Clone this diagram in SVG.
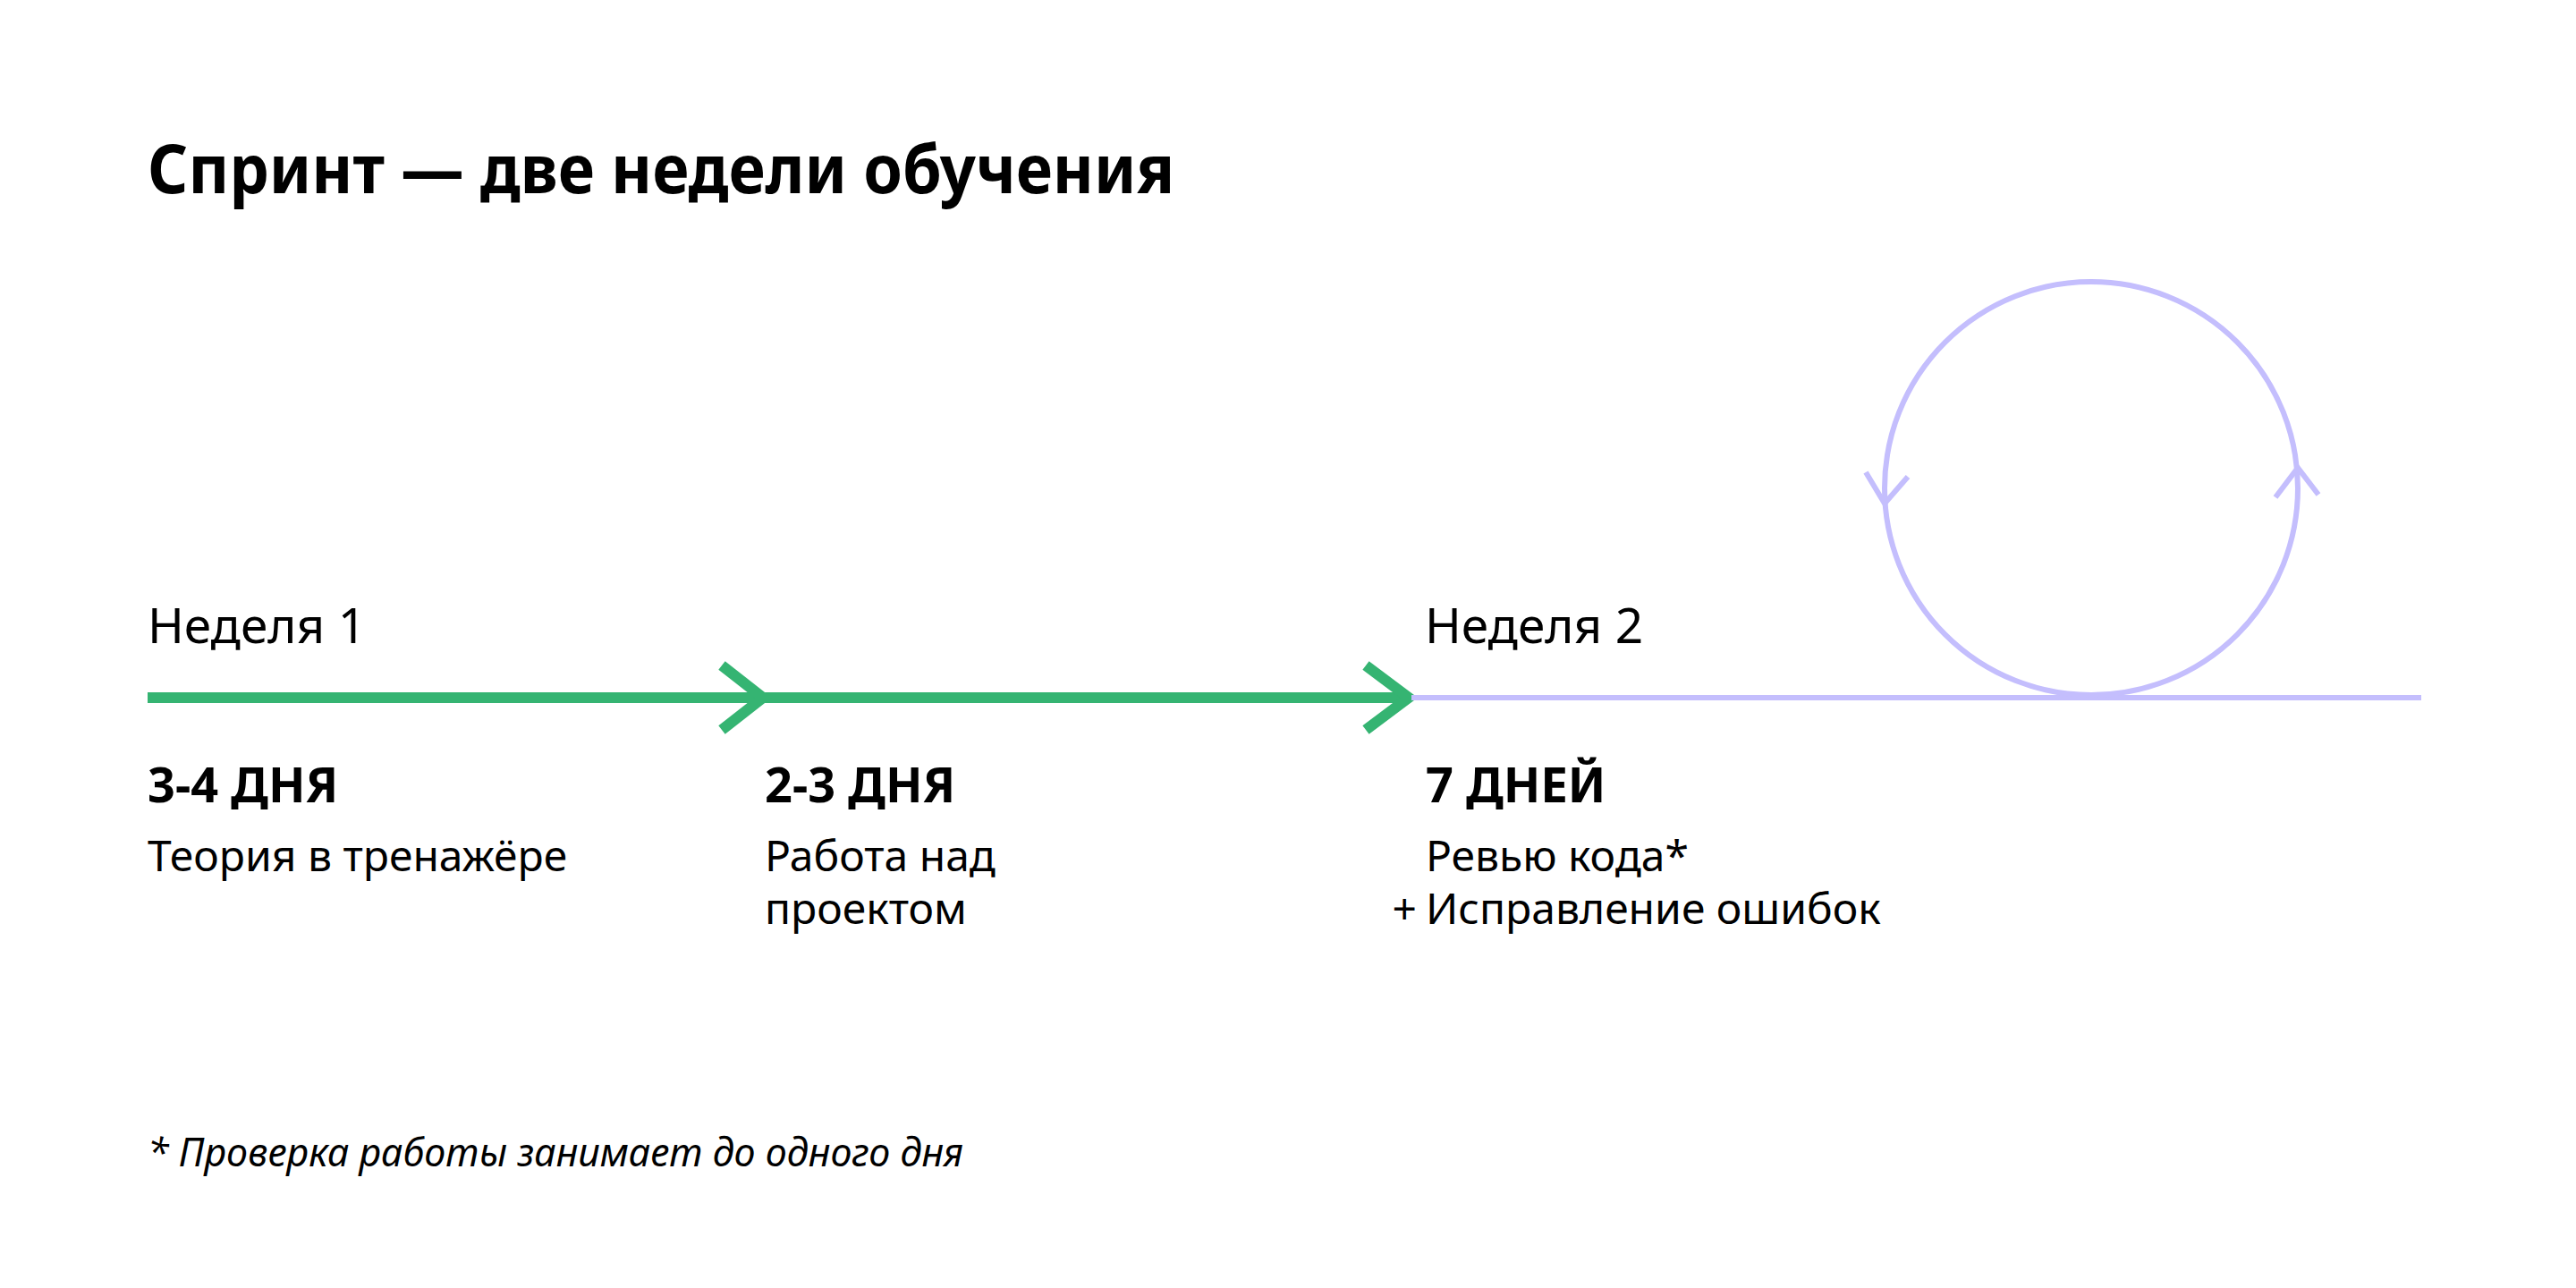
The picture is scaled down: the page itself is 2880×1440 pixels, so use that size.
<svg xmlns="http://www.w3.org/2000/svg" width="2880" height="1440" viewBox="0 0 2880 1440">
<style>
text{font-family:"Noto Sans","Liberation Sans",sans-serif;fill:#000}
.title{font-size:75px;font-weight:700}
.week{font-size:55px}
.days{font-size:54px;font-weight:700}
.desc{font-size:48px}
.note{font-size:43px;font-style:italic}
.green{stroke:#35b472;fill:none;stroke-width:12}
.purple{stroke:#c4befd;fill:none;stroke-width:6}
</style>
<rect width="2880" height="1440" fill="#fff"/>
<g id="title"><text class="title" x="165" y="216" textLength="1148" lengthAdjust="spacingAndGlyphs">Спринт — две недели обучения</text></g>
<g id="connectors">
<line class="green" x1="165" y1="780" x2="1572" y2="780"/>
<polyline class="green" points="807,744 853,780 807,816"/>
<polyline class="green" points="1527,744 1575,780 1527,816"/>
<line class="purple" x1="1578" y1="780" x2="2707" y2="780"/>
<circle class="purple" cx="2338" cy="546" r="231"/>
<polyline class="purple" stroke-width="5" points="2086,528 2107,563 2133,533"/>
<polyline class="purple" stroke-width="5" points="2544,556 2569,523 2592,553"/>
</g>
<g id="week1"><text class="week" x="165" y="719">Неделя 1</text></g>
<g id="week2"><text class="week" x="1593" y="719">Неделя 2</text></g>
<g id="stage1">
<text class="days" x="165" y="897">3-4 ДНЯ</text>
<text class="desc" x="165" y="974">Теория в тренажёре</text>
</g>
<g id="stage2">
<text class="days" x="855" y="897">2-3 ДНЯ</text>
<text class="desc" x="855" y="974">Работа над</text>
<text class="desc" x="855" y="1033">проектом</text>
</g>
<g id="stage3">
<text class="days" x="1594" y="897">7 ДНЕЙ</text>
<text class="desc" x="1594" y="974">Ревью кода*</text>
<text class="desc" x="1584" y="1033" text-anchor="end">+</text>
<text class="desc" x="1594" y="1033">Исправление ошибок</text>
</g>
<g id="footnote"><text class="note" x="165" y="1304">* Проверка работы занимает до одного дня</text></g>
</svg>
